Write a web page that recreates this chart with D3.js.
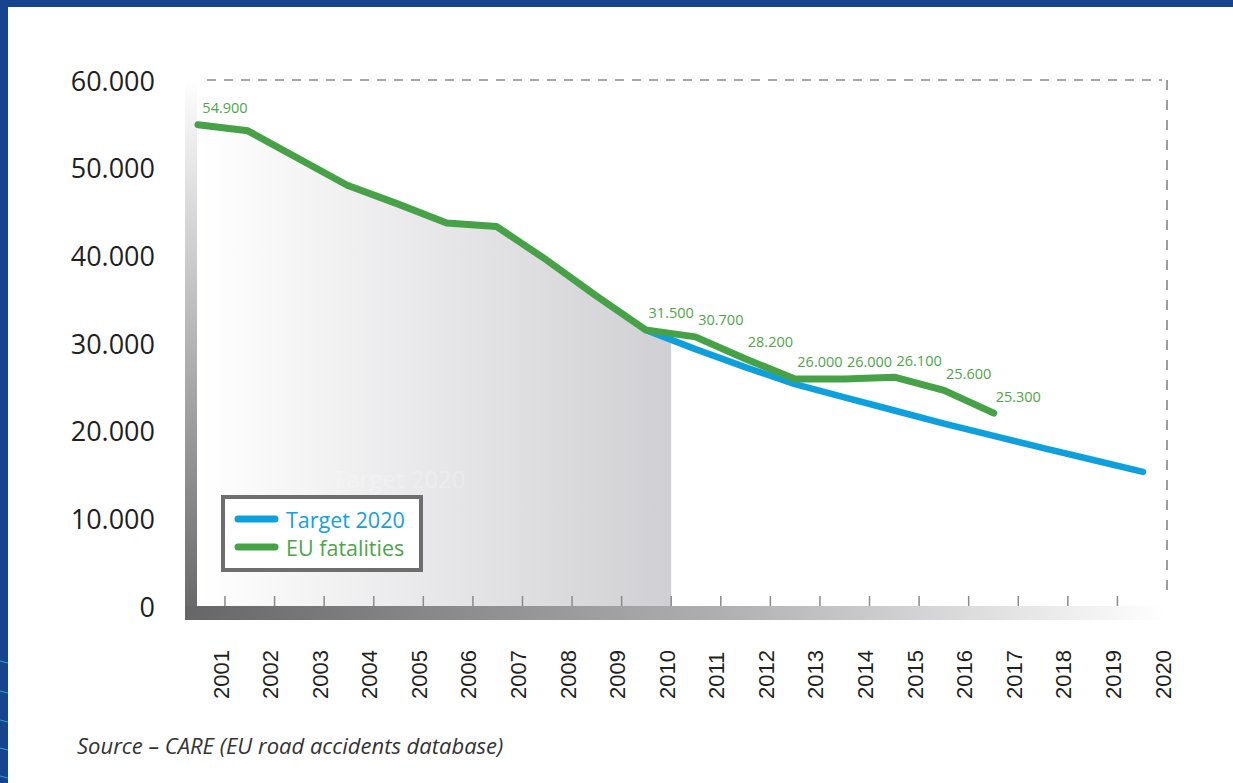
<!DOCTYPE html>
<html>
<head>
<meta charset="utf-8">
<script src="https://cdn.jsdelivr.net/npm/d3@7"></script>
<style>
  html, body { margin: 0; padding: 0; background: #ffffff; }
  svg { display: block; }
</style>
</head>
<body>
<svg id="chart" width="1233" height="783"></svg>
<script>
// ---------------- data ----------------
const xTickYears = [2001,2002,2003,2004,2005,2006,2007,2008,2009,2010,2011,2012,2013,2014,2015,2016,2017,2018,2019,2020];
const fatalityYears = [2001,2002,2003,2004,2005,2006,2007,2008,2009,2010,2011,2012,2013,2014,2015,2016,2017];
const fatalities = [54900,54200,51100,48000,45900,43700,43300,39500,35400,31500,30700,28200,25900,25900,26100,24600,22000];
const targetYears = [2010,2011,2012,2013,2014,2015,2016,2017,2018,2019,2020];
const target = [31500,29300,27250,25300,23800,22300,20800,19400,18000,16650,15300];
const labelYears = [2001,2010,2011,2012,2013,2014,2015,2016,2017];
const labelTexts = ["54.900","31.500","30.700","28.200","26.000","26.000","26.100","25.600","25.300"];
const yTicks = [0,10000,20000,30000,40000,50000,60000];
const yTickLabels = ["0","10.000","20.000","30.000","40.000","50.000","60.000"];
const seriesNames = ["Target 2020","EU fatalities"];
const sourceText = "Source \u2013 CARE (EU road accidents database)";

// ---------------- styles ----------------
const GREEN = "#47a247";
const GREEN_TEXT = "#4fa44a";
const BLUE = "#0ea0dd";
const TEXT = "#231f20";

const svg = d3.select("#chart");
const W = 1233, H = 783;

// scales
const yScale = d3.scaleLinear().domain([0, 60000]).range([606, 80]);
const xData = d3.scaleLinear().domain([2001, 2020]).range([198, 1143]);
const xTick = d3.scaleLinear().domain([2001, 2020]).range([225, 1167]);

// background
svg.append("rect").attr("width", W).attr("height", H).attr("fill", "#ffffff");

const defs = svg.append("defs");
const ag = defs.append("linearGradient").attr("id", "areaGrad")
  .attr("gradientUnits", "userSpaceOnUse")
  .attr("x1", 197).attr("x2", xTick(2010)).attr("y1", 0).attr("y2", 0);
ag.append("stop").attr("offset", 0).attr("stop-color", "#ffffff");
ag.append("stop").attr("offset", 1).attr("stop-color", "#d0d0d4");

const lg = defs.append("linearGradient").attr("id", "leftGrad")
  .attr("gradientUnits", "userSpaceOnUse")
  .attr("x1", 0).attr("x2", 0).attr("y1", 78).attr("y2", 620);
lg.append("stop").attr("offset", 0).attr("stop-color", "#ffffff");
lg.append("stop").attr("offset", 0.35).attr("stop-color", "#c9c9cc");
lg.append("stop").attr("offset", 1).attr("stop-color", "#666668");

const bg = defs.append("linearGradient").attr("id", "bottomGrad")
  .attr("gradientUnits", "userSpaceOnUse")
  .attr("x1", 185).attr("x2", 1165).attr("y1", 0).attr("y2", 0);
bg.append("stop").attr("offset", 0).attr("stop-color", "#666668");
bg.append("stop").attr("offset", 0.55).attr("stop-color", "#b0b0b3");
bg.append("stop").attr("offset", 1).attr("stop-color", "#ffffff");

defs.append("clipPath").attr("id", "areaClip")
  .append("rect").attr("x", 197).attr("y", 60)
  .attr("width", xTick(2010) - 197).attr("height", 560);

// ---------- shaded area under the top line up to 2010 ----------
const fatData = fatalityYears.map((y, i) => ({ year: y, v: fatalities[i] }));
const tgtData = targetYears.map((y, i) => ({ year: y, v: target[i] }));

const area = d3.area()
  .x(d => xData(d.year))
  .y0(yScale(0))
  .y1(d => yScale(d.v));
const shadeData = fatData.filter(d => d.year <= 2010).concat(tgtData.filter(d => d.year > 2010));
svg.append("path")
  .datum(shadeData)
  .attr("d", area)
  .attr("fill", "url(#areaGrad)")
  .attr("clip-path", "url(#areaClip)");

// ghost text
svg.append("text")
  .attr("x", 333).attr("y", 478)
  .attr("dominant-baseline", "central")
  .attr("font-family", "'Open Sans', sans-serif")
  .attr("font-size", 24)
  .attr("fill", "#ffffff").attr("fill-opacity", 0.22)
  .text(seriesNames[0]);

// ---------- frame: dashed top / right ----------
svg.append("line")
  .attr("x1", 207).attr("x2", 1162).attr("y1", yScale(60000)).attr("y2", yScale(60000))
  .attr("stroke", "#a6a6a6").attr("stroke-width", 2).attr("stroke-dasharray", "9,8");
svg.append("line")
  .attr("x1", xTick(2020)).attr("x2", xTick(2020)).attr("y1", yScale(60000)).attr("y2", 597)
  .attr("stroke", "#7d7d7d").attr("stroke-width", 1.5).attr("stroke-dasharray", "10,10");

// left & bottom gradient bars
svg.append("rect").attr("x", 185).attr("y", 78).attr("width", 12).attr("height", 542)
  .attr("fill", "url(#leftGrad)");
svg.append("rect").attr("x", 185).attr("y", 606).attr("width", 980).attr("height", 14)
  .attr("fill", "url(#bottomGrad)");

// tick marks
svg.append("g").selectAll("line")
  .data(xTickYears.slice(0, -1))
  .join("line")
  .attr("x1", d => xTick(d)).attr("x2", d => xTick(d))
  .attr("y1", 596).attr("y2", 606)
  .attr("stroke", "#8a8a8a").attr("stroke-width", 1.5);

// ---------- lines ----------
const line = d3.line().x(d => xData(d.year)).y(d => yScale(d.v));
svg.append("path").datum(tgtData).attr("d", line)
  .attr("fill", "none").attr("stroke", BLUE).attr("stroke-width", 6.5)
  .attr("stroke-linecap", "round").attr("stroke-linejoin", "round");
svg.append("path").datum(fatData).attr("d", line)
  .attr("fill", "none").attr("stroke", GREEN).attr("stroke-width", 7)
  .attr("stroke-linecap", "round").attr("stroke-linejoin", "round");

// value labels
svg.append("g").selectAll("text")
  .data(labelYears.map((y, i) => ({ year: y, t: labelTexts[i], v: fatalities[fatalityYears.indexOf(y)] })))
  .join("text")
  .attr("x", d => xTick(d.year))
  .attr("y", d => yScale(d.v) - 17)
  .attr("text-anchor", "middle")
  .attr("dominant-baseline", "central")
  .attr("font-family", "'Open Sans', sans-serif")
  .attr("font-size", 14.5)
  .attr("fill", GREEN_TEXT)
  .text(d => d.t);

// ---------- legend ----------
const leg = svg.append("g");
leg.append("rect").attr("x", 223).attr("y", 497).attr("width", 198).attr("height", 73)
  .attr("fill", "#ffffff").attr("stroke", "#6e6e6e").attr("stroke-width", 4);
const legColors = [BLUE, GREEN];
const legText = ["#15a0dc", "#4fa44a"];
seriesNames.forEach((n, i) => {
  const y = 519 + i * 28;
  leg.append("line").attr("x1", 238).attr("x2", 275).attr("y1", y).attr("y2", y)
    .attr("stroke", legColors[i]).attr("stroke-width", 7).attr("stroke-linecap", "round");
  leg.append("text").attr("x", 286).attr("y", y)
    .attr("dominant-baseline", "central")
    .attr("font-family", "'Open Sans', sans-serif")
    .attr("font-size", 21.5)
    .attr("fill", legText[i])
    .text(n);
});

// ---------- y axis labels ----------
svg.append("g").selectAll("text")
  .data(yTicks.map((v, i) => ({ v, t: yTickLabels[i] })))
  .join("text")
  .attr("x", 155)
  .attr("y", d => yScale(d.v))
  .attr("text-anchor", "end")
  .attr("dominant-baseline", "central")
  .attr("font-family", "'Open Sans', sans-serif")
  .attr("font-size", 27)
  .attr("fill", TEXT)
  .text(d => d.t);

// ---------- x axis labels (rotated) ----------
svg.append("g").selectAll("text")
  .data(xTickYears)
  .join("text")
  .attr("transform", d => `translate(${xTick(d) - 4},699) rotate(-90)`)
  .attr("text-anchor", "start")
  .attr("dominant-baseline", "central")
  .attr("font-family", "'Liberation Sans', Arial, sans-serif")
  .attr("font-size", 22)
  .attr("fill", TEXT)
  .text(d => d);

// ---------- source ----------
svg.append("text")
  .attr("x", 77).attr("y", 745)
  .attr("dominant-baseline", "central")
  .attr("font-family", "'Open Sans', sans-serif")
  .attr("font-style", "italic")
  .attr("font-size", 22)
  .attr("fill", "#333333")
  .text(sourceText);

// ---------- slide frame (blue) ----------
svg.append("rect").attr("x", 0).attr("y", 0).attr("width", W).attr("height", 7).attr("fill", "#16448f");
svg.append("rect").attr("x", 0).attr("y", 0).attr("width", 8).attr("height", H).attr("fill", "#16448f");
const streaks = [663, 693, 722, 750, 778];
svg.append("g").selectAll("line").data(streaks).join("line")
  .attr("x1", 0).attr("x2", 8).attr("y1", d => d - 2).attr("y2", d => d)
  .attr("stroke", "#2fb4ee").attr("stroke-width", 1.2).attr("stroke-opacity", 0.8);
</script>
</body>
</html>
